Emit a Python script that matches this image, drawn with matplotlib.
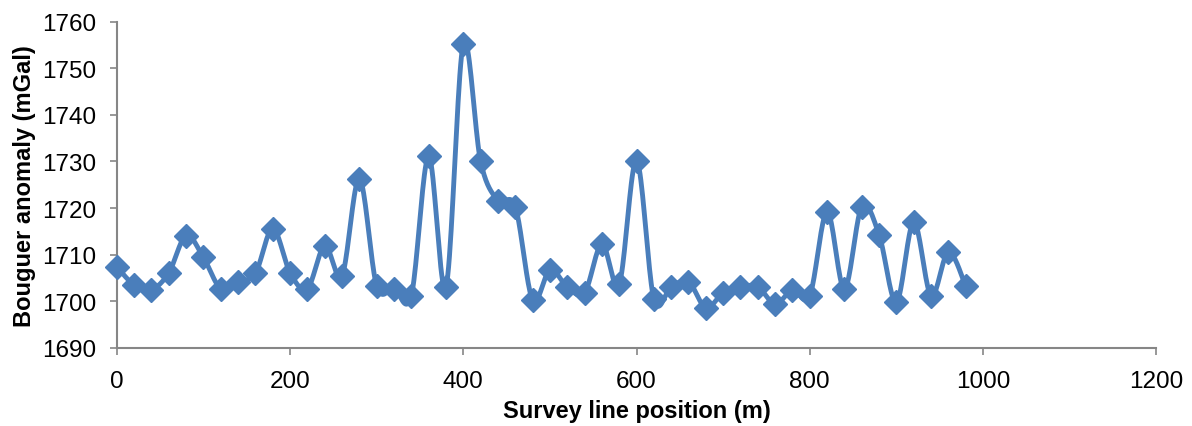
import matplotlib.pyplot as plt
import numpy as np

# survey positions (m) and Bouguer anomaly (mGal)
position = [0, 20, 40, 60, 80, 100, 120, 140, 160, 180,
            200, 220, 240, 260, 280, 300, 320, 340, 360, 380,
            400, 420, 440, 460, 480, 500, 520, 540, 560, 580,
            600, 620, 640, 660, 680, 700, 720, 740, 760, 780,
            800, 820, 840, 860, 880, 900, 920, 940, 960, 980]
anomaly = [1707.4, 1703.5, 1702.5, 1706.1, 1714.1, 1709.4, 1702.7, 1704.2, 1706.0, 1715.6,
           1706.1, 1702.7, 1711.9, 1705.5, 1726.3, 1703.3, 1702.7, 1701.2, 1731.1, 1703.1,
           1755.2, 1730.0, 1721.6, 1720.3, 1700.3, 1706.8, 1703.1, 1701.8, 1712.3, 1703.7,
           1730.2, 1700.5, 1703.1, 1704.2, 1698.6, 1701.8, 1703.1, 1703.1, 1699.4, 1702.4,
           1701.2, 1719.2, 1702.6, 1720.3, 1714.3, 1699.8, 1717.0, 1701.2, 1710.6, 1703.3]

xticks = np.arange(0, 1201, 200)
yticks = np.arange(1690, 1761, 10)


def smooth(x, y, n=20):
    # Catmull-Rom style curve through the points, like Excel's smoothed line
    x = np.asarray(x, float)
    y = np.asarray(y, float)
    px = np.concatenate([[x[0]], x, [x[-1]]])
    py = np.concatenate([[y[0]], y, [y[-1]]])
    t = np.linspace(0, 1, n, endpoint=False)
    xs, ys = [], []
    for i in range(1, len(px) - 2):
        for p, out in ((px, xs), (py, ys)):
            p0, p1, p2, p3 = p[i - 1], p[i], p[i + 1], p[i + 2]
            m1 = (p2 - p0) / 2
            m2 = (p3 - p1) / 2
            h00 = 2 * t**3 - 3 * t**2 + 1
            h10 = t**3 - 2 * t**2 + t
            h01 = -2 * t**3 + 3 * t**2
            h11 = t**3 - t**2
            out.extend(h00 * p1 + h10 * m1 + h01 * p2 + h11 * m2)
    xs.append(x[-1])
    ys.append(y[-1])
    return np.array(xs), np.array(ys)


plt.rcParams['font.family'] = ['Liberation Sans', 'DejaVu Sans']

fig = plt.figure(figsize=(11.92, 4.27), dpi=100)
ax = fig.add_axes([0.098, 0.183, 0.872, 0.764])

blue = '#4A7EBB'
sx, sy = smooth(position, anomaly)
ax.plot(sx, sy, color=blue, lw=3.5, solid_capstyle='round', zorder=2, clip_on=False)
ax.plot(position, anomaly, ls='none', marker='D', ms=12, color=blue,
        markeredgecolor=blue, zorder=3, clip_on=False)

ax.set_xlim(0, 1200)
ax.set_ylim(1690, 1760)
ax.set_xticks(xticks)
ax.set_yticks(yticks)
ax.tick_params(axis='both', labelsize=17.5, color='#868686', length=5, width=1.2, direction='out')
ax.tick_params(axis='x', pad=11)
ax.tick_params(axis='y', pad=10)
for s in ['top', 'right']:
    ax.spines[s].set_visible(False)
for s in ['left', 'bottom']:
    ax.spines[s].set_color('#868686')
    ax.spines[s].set_linewidth(1.5)

ax.set_xlabel('Survey line position (m)', fontsize=17, fontweight='bold', labelpad=5)
ax.set_ylabel('Bouguer anomaly (mGal)', fontsize=17, fontweight='bold', labelpad=4)

plt.savefig('out.png', dpi=100)
